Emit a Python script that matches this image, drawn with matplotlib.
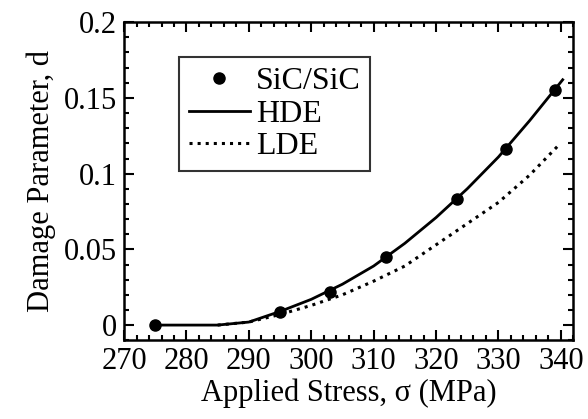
import matplotlib.pyplot as plt
from matplotlib.ticker import MultipleLocator

# measured damage (SiC/SiC)
stress_pts = [275, 295, 303, 312, 323.4, 331.2, 339]
damage_pts = [0.0, 0.0085, 0.022, 0.045, 0.083, 0.116, 0.155]

# HDE model curve
stress_hde = [275, 280, 285, 290, 295, 300, 305, 310, 315, 320, 325, 330, 335, 340.3]
damage_hde = [0.0, 0.0, 0.0, 0.002, 0.009, 0.017, 0.027, 0.039, 0.054, 0.071, 0.090, 0.111, 0.135, 0.162]

# LDE model curve
stress_lde = [285, 290, 295, 300, 305, 310, 315, 320, 325, 330, 335, 339.7]
damage_lde = [0.0, 0.002, 0.007, 0.013, 0.020, 0.029, 0.039, 0.053, 0.067, 0.081, 0.099, 0.119]

plt.rcParams['font.family'] = ['Liberation Serif', 'DejaVu Serif']

fig, ax = plt.subplots(figsize=(5.88, 4.19), dpi=100)
fig.subplots_adjust(left=0.211, right=0.975, top=0.947, bottom=0.188)

ax.plot(stress_pts, damage_pts, 'o', color='black', ms=8, label='SiC/SiC', zorder=3)
ax.plot(stress_hde, damage_hde, '-', color='black', lw=2, label='HDE')
ax.plot(stress_lde, damage_lde, ':', color='black', lw=2.2, label='LDE')

ax.set_xlim(270, 342)
ax.set_ylim(-0.01, 0.2)
ax.xaxis.set_major_locator(MultipleLocator(10))
ax.xaxis.set_minor_locator(MultipleLocator(2))
ax.yaxis.set_minor_locator(MultipleLocator(0.01))
ax.set_yticks([0, 0.05, 0.1, 0.15, 0.2])
ax.set_yticklabels(['0', '0.05', '0.1', '0.15', '0.2'])

ax.tick_params(which='both', direction='in', top=True, right=True, labelsize=22, width=1.5)
ax.tick_params(which='major', length=7, pad=5)
ax.tick_params(which='minor', length=3.5)
for s in ax.spines.values():
    s.set_linewidth(1.8)

ax.set_xlabel('Applied Stress, σ (MPa)', fontsize=22, labelpad=2)
ax.set_ylabel('Damage Parameter, d', fontsize=22, labelpad=6)

leg = ax.legend(loc='upper left', bbox_to_anchor=(0.123, 0.89), fontsize=23, frameon=True,
                fancybox=False, edgecolor='black', handlelength=1.9, handletextpad=0.2,
                borderpad=0.3, labelspacing=0.1, borderaxespad=0)
leg.get_frame().set_linewidth(1.5)

fig.savefig('out.png', dpi=100)
